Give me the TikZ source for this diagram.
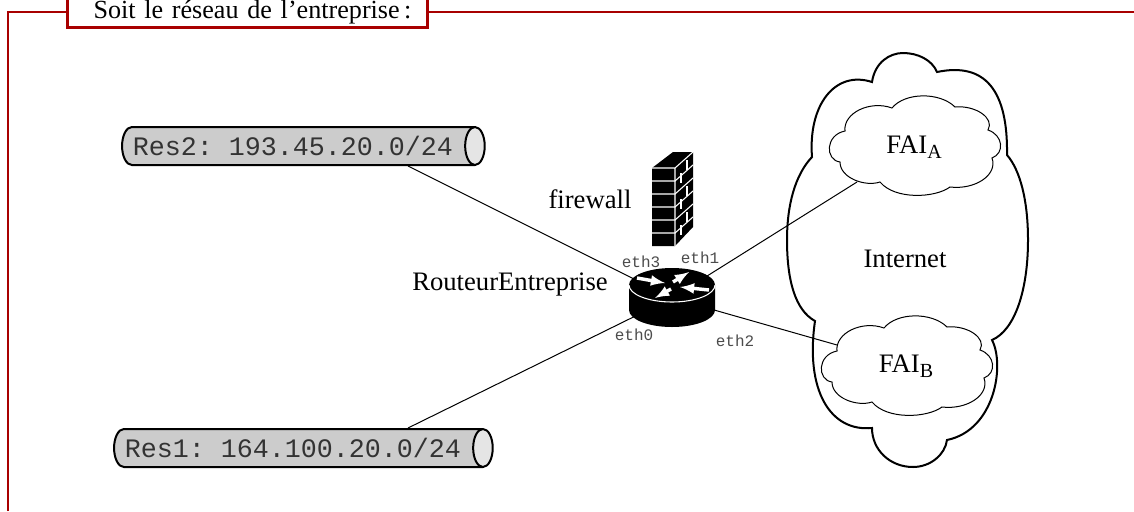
\documentclass[tikz,border=0pt]{standalone}
\usepackage{fontspec}
\setmainfont{Liberation Serif}
\setmonofont{Liberation Mono}
\usetikzlibrary{shapes.geometric}
\definecolor{framered}{HTML}{A80000}
\tikzset{
	resnet/.style={shape=cylinder, draw=black, line width=1.5pt, aspect=1, shape border rotate=0, cylinder uses custom fill, cylinder body fill=black!20, cylinder end fill=black!10, inner sep=0pt, minimum width=28.5pt, text=black!80, font=\fontsize{20}{22}\ttfamily},
	lien/.style={draw=black, line width=0.75pt},
	ethlabel/.style={font=\fontsize{12}{14}\ttfamily, text=black!70, inner sep=0pt},
	textlabel/.style={font=\fontsize{20}{22}\selectfont, inner sep=0pt},
	cloudfai/.style={draw=black, line width=0.75pt},
	cloudnet/.style={draw=black, line width=1.5pt},
	flecheblanche/.style={->, >=latex, line width=2.6pt, color=white},
	brique/.style={draw=white, line width=0.8pt}
}
\newcommand{\faisub}[1]{\raisebox{-3.5pt}{\fontsize{15}{15}\selectfont #1}}
\newcommand{\faipath}{(845,131) .. controls (843,113) and (870,100) .. (892,108)
	.. controls (905,92) and (940,92) .. (955,107)
	.. controls (975,105) and (995,118) .. (988,130)
	.. controls (1003,135) and (1005,153) .. (992,158)
	.. controls (998,175) and (975,190) .. (950,187)
	.. controls (935,198) and (895,200) .. (880,182)
	.. controls (865,187) and (840,178) .. (840,162)
	.. controls (825,160) and (825,135) .. (845,131) -- cycle}
\begin{document}
\begin{tikzpicture}[x=0.75pt, y=-0.75pt]
	\useasboundingbox (0,0) rectangle (1134,511);
	%Frame:
	\draw[framered, line width=2pt] (8,511) -- (8,12) -- (1134,12);
	\node[draw=framered, fill=white, line width=2pt, anchor=south west, inner xsep=12pt, inner ysep=2.4pt, text width=246pt, text height=18pt, text depth=4.3pt, align=right, font=\fontsize{19.6}{22}\selectfont] (titre) at (66,29) {Soit le réseau de l’entreprise\,:};
	%Internet clouds:
	\draw[cloudnet] (872,82) .. controls (875,62) and (890,53) .. (903,53)
		.. controls (918,53) and (932,60) .. (937,72)
		.. controls (985,62) and (1008,90) .. (1007,155)
		.. controls (1020,170) and (1028,200) .. (1028,240)
		.. controls (1028,290) and (1015,330) .. (992,340)
		.. controls (1005,365) and (995,430) .. (947,440)
		.. controls (945,455) and (930,467) .. (913,467)
		.. controls (890,467) and (872,450) .. (872,428)
		.. controls (830,432) and (805,390) .. (815,321)
		.. controls (795,310) and (787,280) .. (787,240)
		.. controls (787,205) and (795,175) .. (812,157)
		.. controls (808,105) and (835,70) .. (872,82) -- cycle;
	\draw[cloudfai] \faipath;
	\draw[cloudfai, shift={(-8,220)}] \faipath;
	\node[textlabel] (internet) at (905,259) {Internet};
	\node[textlabel] (faiA) at (914,147.5) {FAI\faisub{A}};
	\node[textlabel] (faiB) at (906,366.5) {FAI\faisub{B}};
	%Networks:
	\node[resnet, minimum height=272pt] (res2) at (298,146) {Res2: 193.45.20.0/24\hspace*{7.5pt}};
	\node[resnet, minimum height=284pt] (res1) at (298,448) {Res1: 164.100.20.0/24\hspace*{7.5pt}};
	%Links:
	\coordinate (router) at (672,298);
	\coordinate (res2port) at (408,166);
	\coordinate (res1port) at (408,428);
	\coordinate (faiAport) at (857,182);
	\coordinate (faiBport) at (837,345);
	\draw[lien] (res2port) -- (router);
	\draw[lien] (res1port) -- (router);
	\draw[lien] (faiAport) -- (router);
	\draw[lien] (faiBport) -- (router);
	%Router:
	\fill[black] (629,285) -- (629,310) arc[start angle=180, end angle=360, x radius=32.25pt, y radius=12.75pt] -- (715,285) -- cycle;
	\fill[black] (672,285) ellipse [x radius=32.25pt, y radius=12.75pt];
	\draw[white, line width=0.8pt] (629,285) arc[start angle=180, end angle=360, x radius=32.25pt, y radius=12.75pt];
	\draw[flecheblanche] (637,278) -- (665,283);
	\draw[flecheblanche] (673,282) -- (689,272);
	\draw[flecheblanche] (709,290) -- (680,287);
	\draw[flecheblanche] (671,289) -- (655,298);
	%Firewall:
	\fill[black] (652,168) -- (673,152) -- (693,152) -- (693,227) -- (675,246) -- (652,246) -- cycle;
	\draw[brique] (652,168) -- (675,168) -- (693,152) (675,168) -- (675,246);
	\foreach \rangy in {181,194,207,220,233}
		\draw[brique] (652,\rangy) -- (675,\rangy) -- (693,\rangy-16);
	\foreach \rangy/\colx in {168/687,181/681,194/687,207/681,220/687,233/681}
		\draw[brique] (\colx,\rangy-8) -- (\colx,\rangy+2);
	%Labels:
	\node[textlabel] (firewall) at (590,199) {firewall};
	\node[textlabel] (routeur) at (510,285) {RouteurEntreprise};
	\node[ethlabel] (eth3) at (641,262) {eth3};
	\node[ethlabel] (eth1) at (700,258) {eth1};
	\node[ethlabel] (eth0) at (634,335) {eth0};
	\node[ethlabel] (eth2) at (735,341) {eth2};
\end{tikzpicture}
\end{document}
